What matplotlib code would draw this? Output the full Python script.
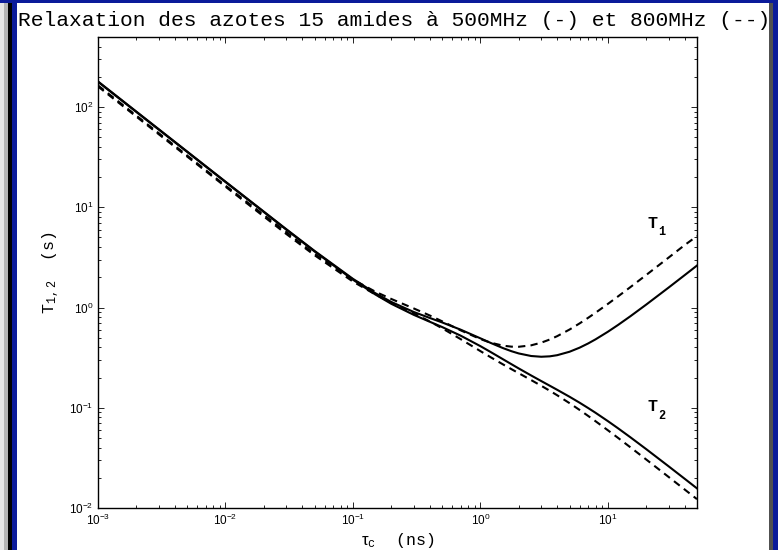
import matplotlib
matplotlib.use("Agg")
import matplotlib.pyplot as plt
from matplotlib.patches import Rectangle
from matplotlib.ticker import LogLocator

plt.rcParams['font.family'] = ['Liberation Sans', 'DejaVu Sans']
plt.rcParams['mathtext.fontset'] = 'custom'
plt.rcParams['mathtext.rm'] = 'Liberation Sans'
plt.rcParams['mathtext.it'] = 'Liberation Sans:italic'
plt.rcParams['mathtext.bf'] = 'Liberation Sans:bold'
plt.rcParams['mathtext.tt'] = 'Liberation Mono'

# correlation time (ns) and relaxation times (s)
tau_c = [0.001, 0.003, 0.01, 0.03, 0.05, 0.1, 0.15, 0.2, 0.3, 0.4, 0.5, 0.7,
         1, 1.2, 1.5, 1.75, 2, 2.5, 3, 3.5, 4, 5, 6, 7, 8, 10, 12, 15, 20,
         30, 40, 50]
t1_500 = [180.3, 60.1, 18.04, 6.051, 3.673, 1.933, 1.389, 1.136, 0.9025,
          0.7875, 0.7107, 0.6012, 0.4928, 0.4442, 0.3942, 0.3668, 0.3482,
          0.3284, 0.3228, 0.3259, 0.3346, 0.3621, 0.3978, 0.4382, 0.4815,
          0.5734, 0.6696, 0.8180, 1.071, 1.585, 2.104, 2.624]
t2_500 = [178.4, 59.5, 17.86, 5.983, 3.626, 1.895, 1.348, 1.089, 0.8452,
          0.7220, 0.6394, 0.5240, 0.4117, 0.3605, 0.3053, 0.2722, 0.2466,
          0.2100, 0.1847, 0.1659, 0.1511, 0.1288, 0.1123, 0.0994, 0.0891,
          0.07355, 0.06247, 0.0508, 0.03862, 0.02601, 0.01958, 0.01569]
t1_800 = [164.3, 54.8, 16.46, 5.661, 3.426, 1.901, 1.438, 1.217, 0.9793,
          0.8336, 0.7293, 0.5923, 0.4843, 0.4464, 0.4167, 0.4071, 0.4060,
          0.4197, 0.4461, 0.4798, 0.5181, 0.6030, 0.6945, 0.7898, 0.8874,
          1.087, 1.290, 1.597, 2.114, 3.155, 4.198, 5.161]
t2_800 = [160.4, 53.5, 16.07, 5.418, 3.324, 1.816, 1.349, 1.121, 0.8751,
          0.7268, 0.6220, 0.4837, 0.3673, 0.3198, 0.2713, 0.2429, 0.2211,
          0.1889, 0.1657, 0.1478, 0.1333, 0.1112, 0.0951, 0.0829, 0.0734,
          0.0596, 0.0501, 0.04036, 0.03044, 0.02037, 0.01530, 0.01225]

title = "Relaxation des azotes 15 amides à 500MHz (-) et 800MHz (--)"

fig = plt.figure(figsize=(7.78, 5.5), dpi=100)
ax = fig.add_axes([98/778, 42/550, 599/778, 471/550])

style = dict(color='k', lw=1.5, solid_joinstyle='round')
ax.loglog(tau_c, t1_500, '-', **style)
ax.loglog(tau_c, t2_500, '-', **style)
ax.loglog(tau_c, t1_800, '--', dashes=(3.5, 2.5), **style)
ax.loglog(tau_c, t2_800, '--', dashes=(3.5, 2.5), **style)

ax.set_xlim(1e-3, 50)
ax.set_ylim(1e-2, 500)
ax.xaxis.set_major_locator(LogLocator(base=10, numticks=10))
ax.yaxis.set_major_locator(LogLocator(base=10, numticks=10))
ax.tick_params(which='both', direction='in', top=True, right=True,
               labelsize=8.5, width=0.6)
ax.tick_params(which='major', length=4.5)
ax.tick_params(which='minor', length=2.5)
for s in ax.spines.values():
    s.set_linewidth(1.0)

ax.set_xlabel(r'$\mathrm{\tau}_{\mathtt{c}}$  (ns)', fontsize=12,
              family='Liberation Mono', labelpad=2)
ax.set_ylabel(r'$\mathtt{T}_{\mathtt{1,2}}$  (s)', fontsize=12,
              family='Liberation Mono', labelpad=6)

# curve labels
ax.text(0.918, 0.605, 'T', transform=ax.transAxes, fontsize=12,
        family='Liberation Mono', weight='bold', ha='left', va='center')
ax.text(0.936, 0.585, '1', transform=ax.transAxes, fontsize=8.5,
        family='Liberation Mono', weight='bold', ha='left', va='center')
ax.text(0.918, 0.215, 'T', transform=ax.transAxes, fontsize=12,
        family='Liberation Mono', weight='bold', ha='left', va='center')
ax.text(0.936, 0.195, '2', transform=ax.transAxes, fontsize=8.5,
        family='Liberation Mono', weight='bold', ha='left', va='center')

fig.text(18/778, 1 - 20/550, title, fontsize=15.3, family='Liberation Mono',
         ha='left', va='center', zorder=1)

# window frame around the figure
W, H = 778, 550
def frame(x, y, w, h, color):
    fig.add_artist(Rectangle((x/W, 1 - (y + h)/H), w/W, h/H,
                             transform=fig.transFigure, color=color,
                             lw=0, zorder=20))

frame(0, 0, 4, H, '#e6e6e6')
frame(4, 0, 4, H, '#b4b4b4')
frame(8, 0, 4, H, '#000000')
frame(12, 0, 5, H, '#0b1b9a')
frame(0, 0, W, 3, '#0b1b9a')
frame(769, 3, 4, H, '#505050')
frame(773, 0, 5, H, '#0b1b9a')

fig.savefig('out.png', dpi=100)
